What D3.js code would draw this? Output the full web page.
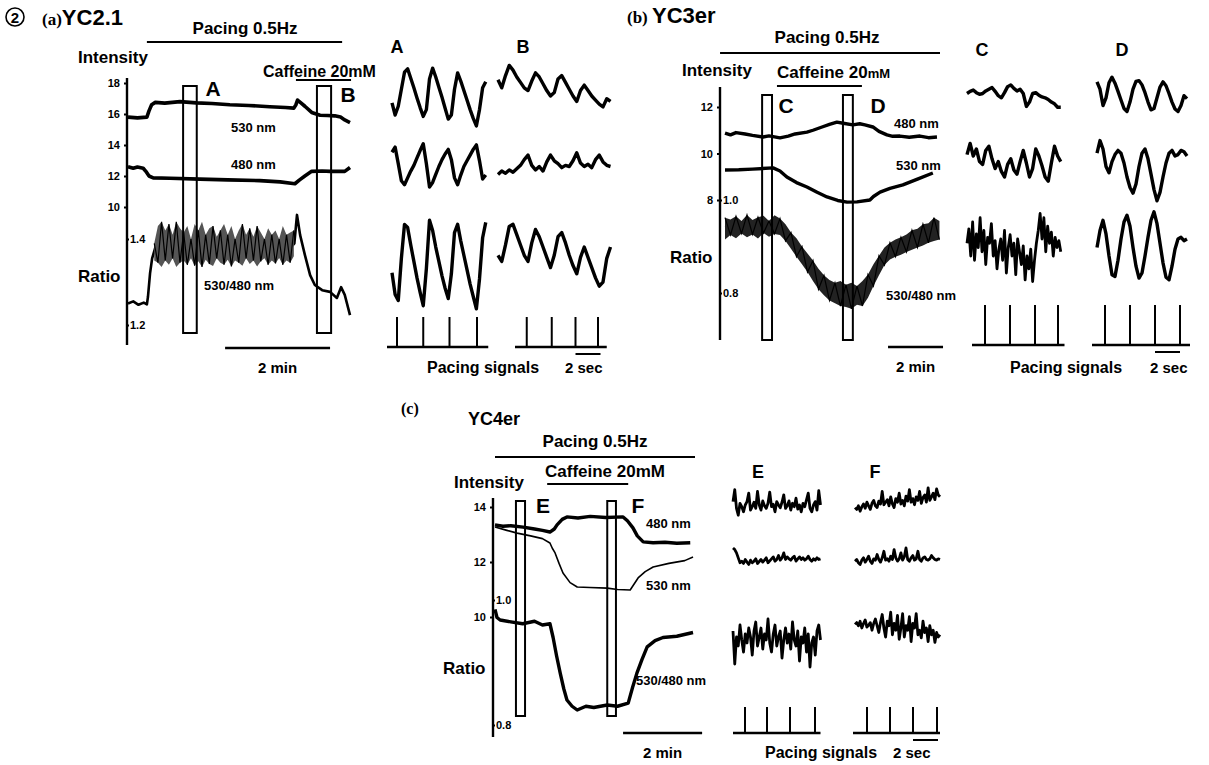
<!DOCTYPE html>
<html>
<head>
<meta charset="utf-8">
<script src="https://cdn.jsdelivr.net/npm/d3@7"></script>
<style>
body { margin: 0; background: #fff; }
text { font-family: "Liberation Sans", Arial, sans-serif; font-weight: bold; fill: #000; }
.serif { font-family: "Liberation Serif", "Times New Roman", serif; }
</style>
</head>
<body>
<script>
// ---------- main recordings, time in min ----------
// (a) YC2.1
var a530 = [[0,15.8],[0.18,15.75],[0.36,15.8],[0.4,16.2],[0.45,16.6],[0.52,16.75],[0.7,16.7],[0.99,16.8],[1.3,16.72],[1.6,16.68],[1.94,16.6],[2.3,16.55],[2.7,16.47],[3.0,16.42],[3.16,16.38],[3.2,16.6],[3.23,16.9],[3.3,16.7],[3.37,16.5],[3.5,16.1],[3.66,15.92],[3.8,15.9],[3.94,15.88],[4.05,15.8],[4.13,15.62],[4.23,15.45]];
var a480 = [[0,12.6],[0.1,12.5],[0.18,12.58],[0.29,12.5],[0.34,12.3],[0.4,12.0],[0.48,11.88],[0.8,11.85],[1.37,11.8],[1.9,11.75],[2.51,11.7],[2.9,11.62],[3.18,11.5],[3.27,11.75],[3.37,12.0],[3.5,12.3],[3.7,12.32],[3.85,12.3],[4.13,12.3],[4.23,12.55]];
var aRatio = [[0,1.25],[0.1,1.255],[0.2,1.247],[0.3,1.252],[0.36,1.248],[0.38,1.265],[0.42,1.32],[0.46,1.355],[0.52,1.38],[0.8,1.385],[1.5,1.38],[2.5,1.378],[3.1,1.38],[3.17,1.39],[3.2,1.43],[3.22,1.456],[3.28,1.409],[3.37,1.363],[3.47,1.316],[3.56,1.293],[3.7,1.281],[3.85,1.277],[3.98,1.263],[4.06,1.288],[4.13,1.27],[4.23,1.223]];
var aRatioBand = [[0.50,1.35,1.39],[0.57,1.345,1.43],[0.64,1.335,1.44],[0.71,1.35,1.42],[0.78,1.34,1.435],[0.85,1.355,1.41],[0.92,1.335,1.44],[0.99,1.345,1.425],[1.06,1.35,1.415],[1.13,1.34,1.43],[1.20,1.355,1.40],[1.27,1.338,1.435],[1.34,1.348,1.42],[1.41,1.335,1.44],[1.48,1.352,1.41],[1.55,1.342,1.425],[1.62,1.337,1.43],[1.69,1.355,1.405],[1.76,1.345,1.42],[1.83,1.34,1.435],[1.90,1.352,1.41],[1.97,1.336,1.43],[2.04,1.35,1.40],[2.11,1.345,1.42],[2.18,1.338,1.435],[2.25,1.355,1.41],[2.32,1.342,1.425],[2.39,1.35,1.405],[2.46,1.336,1.43],[2.53,1.348,1.415],[2.60,1.355,1.40],[2.67,1.34,1.425],[2.74,1.35,1.41],[2.81,1.343,1.42],[2.88,1.356,1.40],[2.95,1.34,1.43],[3.02,1.35,1.41],[3.09,1.345,1.415],[3.16,1.36,1.42]];
var aPacing = [0.36, 4.08], aCaffeine = [3.2, 4.25];
var aWindows = [["A", 1.05, 1.31], ["B", 3.6, 3.87]];

// (b) YC3er
var b480 = [[0,10.88],[0.2,10.8],[0.4,10.9],[0.73,10.84],[1.0,10.78],[1.38,10.71],[1.6,10.76],[2.0,10.67],[2.3,10.75],[2.55,10.84],[2.98,10.92],[3.2,11.0],[3.53,11.14],[3.8,11.25],[4.07,11.35],[4.3,11.3],[4.65,11.23],[4.9,11.28],[5.09,11.23],[5.38,11.14],[5.6,10.95],[5.89,10.8],[6.1,10.74],[6.36,10.75],[6.7,10.7],[7.09,10.75],[7.4,10.68],[7.71,10.71]];
var b530 = [[0,9.29],[0.5,9.3],[1.0,9.33],[1.75,9.38],[2.0,9.25],[2.25,8.99],[2.6,8.75],[2.98,8.56],[3.35,8.33],[3.71,8.13],[4.1,7.98],[4.44,7.91],[4.8,7.92],[5.27,8.0],[5.4,8.15],[5.64,8.34],[6.0,8.5],[6.47,8.65],[7.0,8.9],[7.56,9.16]];
var bRatio = [[0,0.942],[0.5,0.945],[1.0,0.94],[1.5,0.944],[1.89,0.942],[2.2,0.93],[2.47,0.91],[2.98,0.865],[3.45,0.825],[3.93,0.805],[4.3,0.797],[4.65,0.796],[5.02,0.8],[5.2,0.815],[5.38,0.838],[5.6,0.86],[5.89,0.88],[6.47,0.9],[7.1,0.918],[7.71,0.935]];
var bRatioBand = [[0.0,0.915,0.962],[0.2,0.925,0.958],[0.4,0.918,0.965],[0.6,0.928,0.955],[0.8,0.92,0.968],[1.0,0.926,0.957],[1.2,0.917,0.963],[1.4,0.929,0.966],[1.6,0.921,0.955],[1.8,0.927,0.967],[2.0,0.925,0.96],[2.2,0.912,0.948],[2.4,0.895,0.93],[2.6,0.878,0.918],[2.8,0.862,0.9],[3.0,0.845,0.885],[3.2,0.826,0.87],[3.4,0.808,0.852],[3.6,0.795,0.838],[3.8,0.784,0.828],[4.0,0.778,0.822],[4.2,0.772,0.826],[4.4,0.77,0.818],[4.6,0.766,0.822],[4.8,0.775,0.815],[5.0,0.772,0.826],[5.2,0.79,0.84],[5.4,0.815,0.862],[5.6,0.838,0.88],[5.8,0.86,0.898],[6.0,0.872,0.908],[6.2,0.878,0.915],[6.4,0.882,0.92],[6.6,0.888,0.926],[6.8,0.893,0.935],[7.0,0.898,0.938],[7.2,0.902,0.948],[7.4,0.908,0.95],[7.6,0.912,0.962],[7.8,0.915,0.955]];
var bPacing = [-0.18, 7.82], bCaffeine = [1.89, 4.98];
var bWindows = [["C", 1.35, 1.71], ["D", 4.29, 4.65]];

// (c) YC4er
var c480 = [[0,13.35],[0.2,13.3],[0.4,13.32],[0.71,13.27],[1.0,13.2],[1.2,13.15],[1.39,13.09],[1.5,13.2],[1.57,13.35],[1.7,13.55],[1.82,13.64],[2.1,13.6],[2.41,13.66],[2.8,13.62],[3.24,13.64],[3.35,13.5],[3.49,13.24],[3.6,12.95],[3.75,12.73],[4.0,12.7],[4.3,12.72],[4.6,12.68],[4.94,12.7]];
var c530 = [[0,13.27],[0.3,13.15],[0.56,13.05],[0.9,12.95],[1.2,12.85],[1.39,12.69],[1.45,12.5],[1.52,12.33],[1.62,11.95],[1.72,11.6],[1.9,11.25],[2.08,11.09],[2.4,11.07],[2.84,11.05],[3.1,11.0],[3.42,10.98],[3.52,11.2],[3.62,11.42],[3.8,11.65],[4.0,11.82],[4.4,11.95],[4.8,12.05],[5.01,12.18]];
var cRatio = [[0,0.985],[0.05,0.972],[0.13,0.968],[0.4,0.965],[0.7,0.962],[1.0,0.966],[1.2,0.96],[1.39,0.962],[1.47,0.94],[1.56,0.91],[1.65,0.883],[1.74,0.858],[1.82,0.84],[1.95,0.83],[2.08,0.824],[2.3,0.83],[2.5,0.828],[2.84,0.832],[3.1,0.83],[3.37,0.835],[3.48,0.86],[3.59,0.883],[3.72,0.905],[3.85,0.925],[4.05,0.935],[4.25,0.94],[4.6,0.942],[5.01,0.948]];
var cPacing = [0, 5.06], cCaffeine = [1.32, 3.37];
var cWindows = [["E", 0.53, 0.76], ["F", 2.84, 3.06]];

// ---------- expanded windows, time in s, values in relative units (0-100) ----------
var snipA = [
  [40,22,35,60,85,90,76,62,47,33,20,30,75,91,78,63,48,32,16,22,60,84,72,58,44,30,17,6,30,62,71],
  [75,84,55,25,18,30,42,52,65,78,90,55,14,22,36,50,62,72,80,62,30,18,35,50,60,70,80,88,60,28,35],
  [41,20,14,55,88,85,68,52,36,22,9,45,92,82,66,52,38,26,16,40,80,88,72,58,44,30,18,6,35,75,90]];
var snipB = [
  [74,62,80,95,88,78,70,62,58,72,84,78,68,58,50,55,75,80,70,60,50,42,58,66,58,50,44,38,34,46,42],
  [36,42,38,44,40,46,52,62,70,52,44,50,42,58,70,60,55,48,52,50,60,74,56,50,54,48,62,70,58,52,50],
  [58,52,68,86,88,78,68,58,52,70,83,76,66,56,46,58,76,80,70,58,48,40,56,66,56,46,36,28,32,55,66]];
var snipC = [
  [50,55,58,52,48,50,56,60,64,55,45,40,52,66,70,62,56,60,50,20,30,50,52,46,42,40,36,30,26,18,18],
  [72,88,70,80,62,58,78,84,66,52,62,48,40,58,66,50,44,62,78,60,40,52,80,70,56,40,34,60,84,70,62],
  [55,72,40,80,35,66,50,85,45,70,30,62,55,78,40,58,25,48,60,35,70,20,50,65,40,55,18,60,45,30,52,12,40,25,48,10,35,55,70,90,60,85,45,75,55,68,40,62,50,58,45]];
var snipD = [
  [77,60,22,40,75,88,74,55,35,15,8,30,60,78,80,70,52,30,12,15,40,65,77,68,50,30,14,8,22,45,38],
  [74,92,80,55,46,62,72,78,74,60,40,25,17,30,55,74,80,66,44,22,6,18,40,60,74,78,70,72,78,76,70],
  [50,70,82,66,40,18,16,35,60,80,88,75,50,28,14,20,40,62,82,92,78,55,32,15,12,28,48,60,62,58,60]];
var snipE = [
  [60,95,40,20,55,45,30,50,60,85,35,45,58,40,90,50,35,62,48,40,55,88,45,52,30,60,50,42,58,80,40,48,62,35,55,45,70,38,50,30,55,45,65,85,40,30,50,60,35,92,50],
  [85,80,70,55,40,45,38,50,42,35,48,40,45,52,38,44,50,42,48,55,40,46,52,58,45,50,62,48,55,70,50,58,52,48,55,60,45,52,58,50,55,48,52,60,50,45,52,48,55,50,52],
  [65,10,55,40,75,50,30,60,45,70,55,25,65,80,40,55,70,35,60,50,85,45,30,60,75,40,55,65,20,50,70,45,60,35,80,50,40,65,15,55,45,70,30,60,5,45,55,25,65,75,50]];
var snipF = [
  [40,35,45,30,42,50,38,55,45,35,52,60,45,40,58,50,85,48,55,62,45,70,50,40,65,55,80,50,60,45,72,58,90,55,65,48,70,60,85,52,68,75,55,95,60,70,80,62,92,75,70],
  [45,50,40,35,48,55,42,50,60,45,38,52,48,65,50,42,55,75,48,52,45,60,50,80,55,45,52,70,48,58,85,50,45,55,62,48,52,75,50,45,55,58,50,48,52,62,55,50,48,52,50],
  [68,72,65,75,60,70,78,62,66,72,55,70,80,65,50,72,90,60,40,75,65,95,45,70,55,88,35,60,92,40,65,55,85,30,70,60,92,45,55,38,75,50,60,30,65,45,55,28,50,40,45]];
var snipDur = {A: 7.5, B: 9, C: 7.5, D: 7.2, E: 7, F: 6.8};

// pacing stimuli (s) and recorded span of the pacing channel
var paceA = [0.4, 2.5, 4.6, 6.8], spanA = [-0.4, 7.7];
var paceB = [2.3, 4.3, 6.2, 8.0], spanB = [1.36, 8.7];
var paceC = [1.44, 3.44, 5.44, 7.28], spanC = [0.4, 7.8];
var paceD = [0.64, 2.64, 4.64, 6.64], spanD = [-0.4, 7.44];
var paceE = [0.96, 2.72, 4.56, 6.56], spanE = [0, 7];
var paceF = [0.96, 2.8, 4.64, 6.56], spanF = [-0.16, 6.8];

var svg = d3.select("body").append("svg").attr("width", 1209).attr("height", 765);
svg.append("rect").attr("width", 1209).attr("height", 765).attr("fill", "#fff");

function txt(x, y, s, size, anchor) {
    return svg.append("text").attr("x", x).attr("y", y).attr("font-size", size)
        .attr("text-anchor", anchor || "start").text(s);
}

function drawMain(p) {
    var x = d3.scaleLinear().domain(p.tDomain).range(p.xRange);
    var yI = d3.scaleLinear().domain(p.intDomain).range(p.intRange);
    var yR = d3.scaleLinear().domain(p.ratioDomain).range(p.ratioRange);
    var g = svg.append("g");

    // protocol bars
    g.append("line").attr("x1", x(p.pacing[0])).attr("x2", x(p.pacing[1]))
        .attr("y1", p.pacingY).attr("y2", p.pacingY).attr("stroke", "#000").attr("stroke-width", 2.2);
    g.append("line").attr("x1", x(p.caffeine[0])).attr("x2", x(p.caffeine[1]))
        .attr("y1", p.caffY).attr("y2", p.caffY).attr("stroke", "#000").attr("stroke-width", 2.2);

    // vertical axis
    g.append("line").attr("x1", p.axisX).attr("x2", p.axisX).attr("y1", p.axisTop).attr("y2", p.axisBottom)
        .attr("stroke", "#000").attr("stroke-width", 2.4);
    var left = g.append("g").attr("transform", "translate(" + p.axisX + ",0)")
        .call(d3.axisLeft(yI).tickValues(p.intTicks).tickSize(3).tickPadding(4).tickFormat(d3.format("d")));
    left.select(".domain").remove();
    left.selectAll("line").attr("stroke", "#000").attr("stroke-width", 2);
    left.selectAll("text").attr("fill", "#000").attr("font-size", 11)
        .attr("font-family", "Liberation Sans, Arial").attr("font-weight", "bold");
    var right = g.append("g").attr("transform", "translate(" + p.axisX + ",0)")
        .call(d3.axisRight(yR).tickValues(p.ratioTicks).tickSize(2).tickPadding(1).tickFormat(d3.format(".1f")));
    right.select(".domain").remove();
    right.selectAll("line").attr("stroke", "#000").attr("stroke-width", 2);
    right.selectAll("text").attr("fill", "#000").attr("font-size", 11)
        .attr("font-family", "Liberation Sans, Arial").attr("font-weight", "bold");

    var lineI = d3.line().x(function(d) { return x(d[0]); }).y(function(d) { return yI(d[1]); });
    var lineR = d3.line().x(function(d) { return x(d[0]); }).y(function(d) { return yR(d[1]); });

    p.intTraces.forEach(function(tr) {
        g.append("path").attr("d", lineI(tr.data)).attr("fill", "none").attr("stroke", "#000")
            .attr("stroke-width", tr.w).attr("stroke-linejoin", "round");
    });
    g.append("path").attr("d", lineR(p.ratio)).attr("fill", "none").attr("stroke", "#000")
        .attr("stroke-width", p.ratioW).attr("stroke-linejoin", "round");

    if (p.band) {
        var area = d3.area().x(function(d) { return x(d[0]); })
            .y0(function(d) { return yR(d[1]); }).y1(function(d) { return yR(d[2]); });
        g.append("path").attr("d", area(p.band)).attr("fill", p.bandFill).attr("stroke", "none");
        var zig = d3.line().x(function(d) { return x(d[0]); })
            .y(function(d, i) { return yR(i % 2 ? d[1] : d[2]); });
        g.append("path").attr("d", zig(p.band)).attr("fill", "none").attr("stroke", "#000").attr("stroke-width", 1.2);
    }

    // analysis windows
    p.windows.forEach(function(w) {
        g.append("rect").attr("x", x(w[1])).attr("y", p.winTop)
            .attr("width", x(w[2]) - x(w[1])).attr("height", p.winBottom - p.winTop)
            .attr("fill", "none").attr("stroke", "#000").attr("stroke-width", 2);
    });

    // 2 min scale bar
    g.append("line").attr("x1", x(p.bar)).attr("x2", x(p.bar + 2)).attr("y1", p.barY).attr("y2", p.barY)
        .attr("stroke", "#000").attr("stroke-width", 2.4);
    txt((x(p.bar) + x(p.bar + 2)) / 2, p.barY + 25, "2 min", 15, "middle");
}

function drawSnip(s) {
    var x = d3.scaleLinear().domain([0, s.dur]).range([s.x0, s.x0 + s.dur * 12.5]);
    s.traces.forEach(function(vals, i) {
        var y = d3.scaleLinear().domain([0, 100]).range([s.rows[i][1], s.rows[i][0]]);
        var dt = s.dur / (vals.length - 1);
        var line = d3.line().x(function(d, j) { return x(j * dt); }).y(function(d) { return y(d); });
        svg.append("path").attr("d", line(vals)).attr("fill", "none").attr("stroke", "#000")
            .attr("stroke-width", s.w[i]).attr("stroke-linejoin", "round");
    });
    // pacing channel
    svg.append("line").attr("x1", x(s.span[0])).attr("x2", x(s.span[1]))
        .attr("y1", s.paceBase).attr("y2", s.paceBase).attr("stroke", "#000").attr("stroke-width", 2.4);
    svg.selectAll(null).data(s.pace).enter().append("line")
        .attr("x1", function(d) { return x(d); }).attr("x2", function(d) { return x(d); })
        .attr("y1", s.paceBase).attr("y2", s.paceTop).attr("stroke", "#000").attr("stroke-width", 2);
    if (s.secBar) {
        svg.append("line").attr("x1", x(s.pace[2])).attr("x2", x(s.pace[2] + 2))
            .attr("y1", s.paceBase + 7).attr("y2", s.paceBase + 7).attr("stroke", "#000").attr("stroke-width", 2);
    }
    txt(s.labelX, s.labelY, s.label, 18, "middle");
}

// ---------- panel (a) ----------
drawMain({
    tDomain: [0, 4.23], xRange: [128, 350],
    intDomain: [10, 18], intRange: [207, 83],
    ratioDomain: [1.2, 1.4], ratioRange: [325, 239],
    intTicks: [10, 12, 14, 16, 18], ratioTicks: [1.2, 1.4],
    axisX: 127, axisTop: 78, axisBottom: 345,
    intTraces: [{data: a530, w: 3.6}, {data: a480, w: 3.6}],
    ratio: aRatio, ratioW: 2.6, band: aRatioBand, bandFill: "#555",
    pacing: aPacing, pacingY: 42, caffeine: aCaffeine, caffY: 80,
    windows: aWindows, winTop: 86, winBottom: 333,
    bar: 1.85, barY: 348
});
svg.append("circle").attr("cx", 15).attr("cy", 17).attr("r", 9).attr("fill", "none").attr("stroke", "#000").attr("stroke-width", 1.6);
txt(15, 22.5, "2", 15, "middle");
var ta = txt(42, 25, "", 17);
ta.append("tspan").attr("class", "serif").attr("font-size", 17).text("(a)");
ta.append("tspan").attr("font-size", 22).text("YC2.1");
txt(245, 34, "Pacing 0.5Hz", 17, "middle");
txt(78, 63, "Intensity", 17);
txt(263, 77, "Caffeine 20mM", 16);
txt(213, 96, "A", 21, "middle");
txt(348, 102, "B", 21, "middle");
txt(231, 132, "530 nm", 13);
txt(231, 169, "480 nm", 13);
txt(78, 282, "Ratio", 17);
txt(204, 290, "530/480 nm", 13);

drawSnip({x0: 392, dur: snipDur.A, traces: snipA, rows: [[62, 130], [138, 195], [212, 315]], w: [3.4, 3.4, 3.4],
    pace: paceA, span: spanA, paceBase: 347, paceTop: 317, label: "A", labelX: 397, labelY: 53});
drawSnip({x0: 498, dur: snipDur.B, traces: snipB, rows: [[62, 130], [138, 195], [212, 315]], w: [3.4, 3.4, 3.4],
    pace: paceB, span: spanB, paceBase: 347, paceTop: 317, label: "B", labelX: 523, labelY: 53, secBar: true});
txt(427, 373, "Pacing signals", 16);
txt(565, 373, "2 sec", 15);

// ---------- panel (b) ----------
drawMain({
    tDomain: [0, 7.82], xRange: [725, 940],
    intDomain: [8, 12], intRange: [200, 107],
    ratioDomain: [0.8, 1.0], ratioRange: [293, 200],
    intTicks: [8, 10, 12], ratioTicks: [0.8, 1.0],
    axisX: 720, axisTop: 87, axisBottom: 340,
    intTraces: [{data: b480, w: 3.4}, {data: b530, w: 3.4}],
    ratio: bRatio, ratioW: 2.5, band: bRatioBand, bandFill: "#222",
    pacing: bPacing, pacingY: 53, caffeine: bCaffeine, caffY: 86,
    windows: bWindows, winTop: 95, winBottom: 340,
    bar: 5.93, barY: 347
});
var tb = txt(627, 23, "", 17);
tb.append("tspan").attr("class", "serif").attr("font-size", 17).text("(b) ");
tb.append("tspan").attr("font-size", 22).text("YC3er");
txt(827, 43, "Pacing 0.5Hz", 17, "middle");
txt(682, 76, "Intensity", 17);
var cb = txt(777, 78, "Caffeine 20", 17);
cb.append("tspan").attr("font-size", 13).text("mM");
txt(786, 113, "C", 21, "middle");
txt(878, 113, "D", 21, "middle");
txt(894, 128, "480 nm", 13);
txt(896, 170, "530 nm", 13);
txt(670, 263, "Ratio", 17);
txt(886, 300, "530/480 nm", 13);

drawSnip({x0: 967, dur: snipDur.C, traces: snipC, rows: [[72, 115], [135, 205], [205, 290]], w: [3.4, 3.4, 2.8],
    pace: paceC, span: spanC, paceBase: 345, paceTop: 305, label: "C", labelX: 982, labelY: 56});
drawSnip({x0: 1097, dur: snipDur.D, traces: snipD, rows: [[72, 115], [135, 205], [205, 290]], w: [3.4, 3.4, 3.4],
    pace: paceD, span: spanD, paceBase: 345, paceTop: 305, label: "D", labelX: 1122, labelY: 56, secBar: true});
txt(1010, 373, "Pacing signals", 16);
txt(1150, 373, "2 sec", 15);

// ---------- panel (c) ----------
drawMain({
    tDomain: [0, 5.06], xRange: [495, 695],
    intDomain: [10, 14], intRange: [617, 507],
    ratioDomain: [0.8, 1.0], ratioRange: [725, 600],
    intTicks: [10, 12, 14], ratioTicks: [0.8, 1.0],
    axisX: 493, axisTop: 498, axisBottom: 737,
    intTraces: [{data: c480, w: 3.4}, {data: c530, w: 1.6}],
    ratio: cRatio, ratioW: 3.4, band: null,
    pacing: cPacing, pacingY: 457, caffeine: cCaffeine, caffY: 484,
    windows: cWindows, winTop: 501, winBottom: 716,
    bar: 3.24, barY: 733
});
var tc = txt(401, 414, "", 17);
tc.append("tspan").attr("class", "serif").attr("font-size", 16).text("(c)");
tc.append("tspan").attr("x", 468).attr("dy", 11).attr("font-size", 18).text("YC4er");
txt(595, 447, "Pacing 0.5Hz", 17, "middle");
txt(454, 488, "Intensity", 17);
txt(545, 477, "Caffeine 20mM", 17);
txt(543, 513, "E", 21, "middle");
txt(638, 513, "F", 21, "middle");
txt(646, 528, "480 nm", 13);
txt(646, 590, "530 nm", 13);
txt(443, 674, "Ratio", 17);
txt(636, 685, "530/480 nm", 13);

drawSnip({x0: 733, dur: snipDur.E, traces: snipE, rows: [[488, 522], [543, 576], [610, 670]], w: [2.8, 2.8, 2.8],
    pace: paceE, span: spanE, paceBase: 733, paceTop: 707, label: "E", labelX: 758, labelY: 478});
drawSnip({x0: 855, dur: snipDur.F, traces: snipF, rows: [[486, 522], [543, 576], [610, 655]], w: [2.8, 2.8, 2.8],
    pace: paceF, span: spanF, paceBase: 733, paceTop: 707, label: "F", labelX: 875, labelY: 478, secBar: true});
txt(765, 758, "Pacing signals", 16);
txt(893, 758, "2 sec", 15);
</script>
</body>
</html>
